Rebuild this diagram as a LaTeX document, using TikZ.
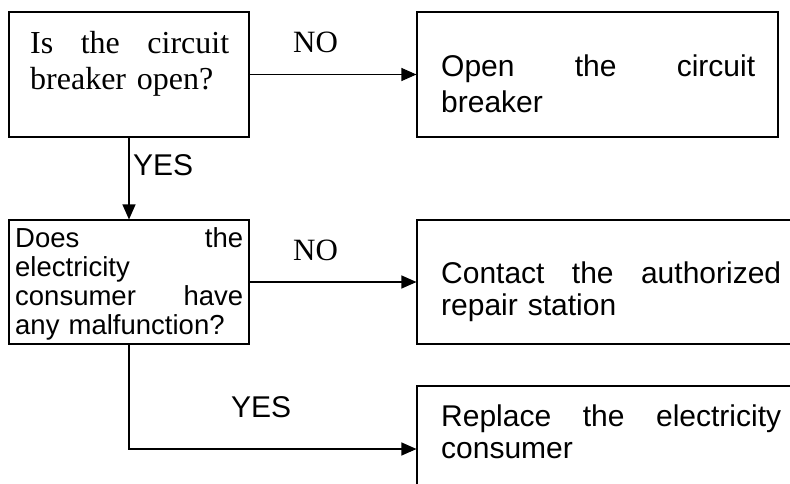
\documentclass[tikz,border=0pt]{standalone}
\usepackage{fontspec}
\setmainfont{Liberation Serif}
\setsansfont{Liberation Sans}
\usetikzlibrary{arrows.meta}

\begin{document}
\begin{tikzpicture}[x=1pt, y=-1pt,
  box/.style={draw, line width=1.1pt, inner sep=0pt},
  flow/.style={-{Triangle[length=15pt, width=13pt]}, line width=1.1pt},
  txt/.style={anchor=base west, inner sep=0pt, align=left},
  lbl/.style={anchor=base west, inner sep=0pt}]

  % Page frame; the two lower boxes run off the right and bottom edges.
  \useasboundingbox (0,0) rectangle (790,483);
  \clip (0,0) rectangle (790,483);

  % ---- Row 1: first question and its action ----
  \node[box, minimum width=240pt, minimum height=125pt] (isopen) at (129,74.5) {};
  \node[box, minimum width=361pt, minimum height=125pt] (doopen) at (597.5,74.5) {};
  \node[txt, text width=199pt, font=\fontsize{32}{36}\selectfont] (isopentxt) at (30,53)
    {Is \hfill the \hfill circuit\\ breaker open?};
  \node[txt, text width=314pt, font=\sffamily\fontsize{30}{36}\selectfont] (doopentxt) at (441,76)
    {Open \hfill the \hfill circuit\\ breaker};

  % ---- Row 2: second question and its two actions ----
  \node[box, minimum width=240pt, minimum height=124pt] (isfault) at (129,282) {};
  \node[box, minimum width=400pt, minimum height=124pt] (repair) at (617,282) {};
  \node[box, minimum width=400pt, minimum height=126pt] (replace) at (617,449) {};
  \node[txt, text width=228pt, font=\sffamily\fontsize{27.5}{29}\selectfont] (isfaulttxt) at (15,247)
    {Does \hfill the\\ electricity\\ consumer \hfill have\\ any malfunction?};
  \node[txt, text width=340pt, font=\sffamily\fontsize{30}{32}\selectfont] (repairtxt) at (441,283)
    {Contact \hfill the \hfill authorized\\ repair station};
  \node[txt, text width=340pt, font=\sffamily\fontsize{30}{32}\selectfont] (replacetxt) at (441,426)
    {Replace \hfill the \hfill electricity\\ consumer};

  % ---- Connectors and their answers ----
  \draw[flow] (isopen.east) -- (doopen.west);
  \draw[flow] (isopen.south) -- (isfault.north);
  \draw[flow] (isfault.east) -- (repair.west);
  \draw[flow] (isfault.south) |- (replace.west);

  \node[lbl, font=\fontsize{31}{31}\selectfont] (no1) at (293,52) {NO};
  \node[lbl, font=\sffamily\fontsize{30}{30}\selectfont] (yes1) at (133,175) {YES};
  \node[lbl, font=\fontsize{31}{31}\selectfont] (no2) at (293,260) {NO};
  \node[lbl, font=\sffamily\fontsize{30}{30}\selectfont] (yes2) at (231,417) {YES};

\end{tikzpicture}
\end{document}
